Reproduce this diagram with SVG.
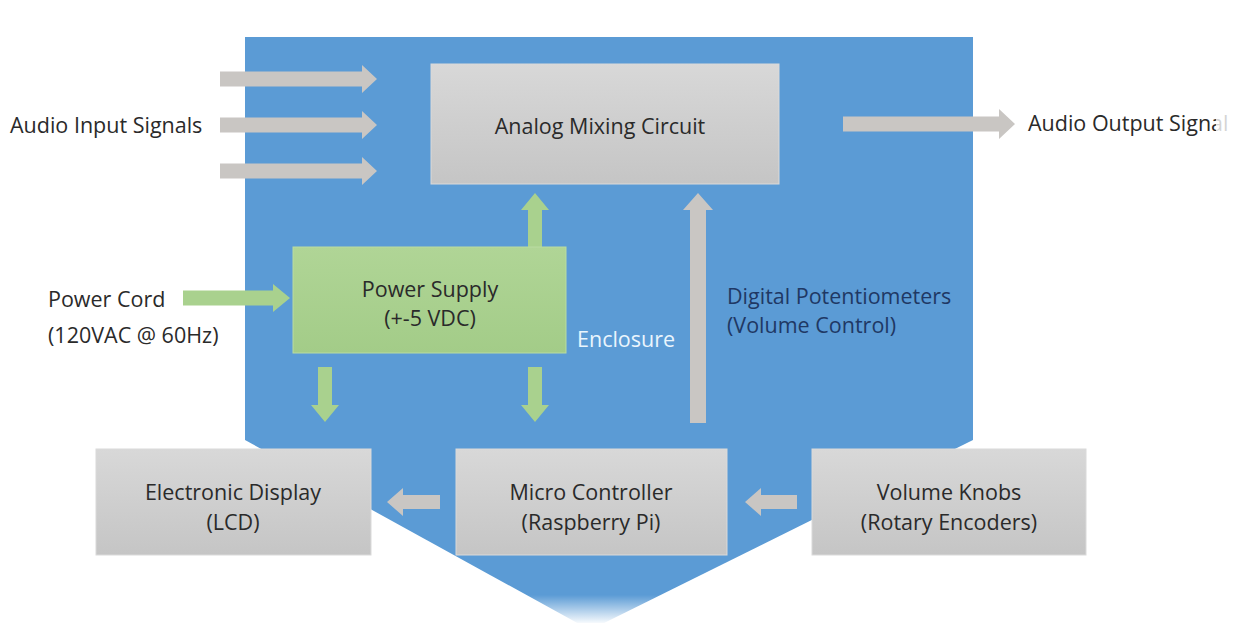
<svg xmlns="http://www.w3.org/2000/svg" width="1238" height="623" viewBox="0 0 1238 623">
  <defs>
    <linearGradient id="grayFill" x1="0" y1="0" x2="0" y2="1">
      <stop offset="0" stop-color="#d8d8d8"/>
      <stop offset="1" stop-color="#c5c5c5"/>
    </linearGradient>
    <linearGradient id="greenFill" x1="0" y1="0" x2="0" y2="1">
      <stop offset="0" stop-color="#b0d596"/>
      <stop offset="1" stop-color="#a3cc88"/>
    </linearGradient>
    <linearGradient id="fadeBottom" x1="0" y1="0" x2="0" y2="1">
      <stop offset="0" stop-color="#ffffff" stop-opacity="0"/>
      <stop offset="1" stop-color="#ffffff" stop-opacity="0.95"/>
    </linearGradient>
  </defs>
  <style>
    .lbl { font-family: "Open Sans", Lato, sans-serif; font-size: 21.5px; fill: #2a2a2a; }
    .mid { text-anchor: middle; }
    .box { fill: url(#grayFill); stroke: #dadada; stroke-width: 1; }
    .psu { fill: url(#greenFill); stroke: #b9dca2; stroke-width: 1; }
    .arrG { fill: #c9c6c3; }
    .arrP { fill: #a9d18e; }
    .pot { fill: #1f3864; }
    .encl { fill: #eaf5fd; }
  </style>

  <rect width="1238" height="623" fill="#ffffff"/>

  <!-- enclosure body -->
  <g id="enclosure">
    <polygon points="245,37 973,37 973,440 590,630 245,440" fill="#5b9bd5"/>
    <rect x="480" y="595" width="220" height="28" fill="url(#fadeBottom)"/>
    <text class="lbl encl" x="577" y="347">Enclosure</text>
  </g>

  <!-- connectors -->
  <g id="connectors">
    <!-- audio inputs -->
    <polygon class="arrG" points="220,71.5 362,71.5 362,65 377,79 362,93 362,86.5 220,86.5"/>
    <polygon class="arrG" points="220,117.5 362,117.5 362,111 377,125 362,139 362,132.5 220,132.5"/>
    <polygon class="arrG" points="220,163.5 362,163.5 362,157 377,171 362,185 362,178.5 220,178.5"/>
    <!-- audio output -->
    <polygon class="arrG" points="843,116.5 999,116.5 999,109 1015,124 999,139 999,131.5 843,131.5"/>
    <!-- power cord -->
    <polygon class="arrP" points="183,290.5 273,290.5 273,284 290,298 273,312 273,305.5 183,305.5"/>
    <!-- supply up to mixer -->
    <polygon class="arrP" points="528,247 528,210 521,210 535,193 549,210 542,210 542,247"/>
    <!-- supply down to display and controller -->
    <polygon class="arrP" points="318,367 332,367 332,405 339,405 325,422 311,405 318,405"/>
    <polygon class="arrP" points="528,367 542,367 542,405 549,405 535,422 521,405 528,405"/>
    <!-- controller up to mixer (digital pots) -->
    <polygon class="arrG" points="690,423 690,210 683,210 698,193 713,210 706,210 706,423"/>
    <!-- controller to display -->
    <polygon class="arrG" points="440,495 403,495 403,488 387,502 403,516 403,509 440,509"/>
    <!-- knobs to controller -->
    <polygon class="arrG" points="797,495 761,495 761,488 745,502 761,516 761,509 797,509"/>
    <text class="lbl pot" x="727" y="304">Digital Potentiometers</text>
    <text class="lbl pot" x="727" y="333">(Volume Control)</text>
  </g>

  <g id="audio-in">
    <text class="lbl" x="10" y="133">Audio Input Signals</text>
  </g>

  <g id="audio-out">
    <text class="lbl" x="1028" y="131">Audio Output Signal</text>
  </g>

  <g id="power-cord">
    <text class="lbl" x="48" y="307">Power Cord</text>
    <text class="lbl" x="48" y="343">(120VAC @ 60Hz)</text>
  </g>

  <g id="mixer">
    <rect class="box" x="431" y="64" width="348" height="120"/>
    <text class="lbl mid" x="600" y="134">Analog Mixing Circuit</text>
  </g>

  <g id="power-supply">
    <rect class="psu" x="293" y="247" width="273" height="106"/>
    <text class="lbl mid" x="430" y="297">Power Supply</text>
    <text class="lbl mid" x="430" y="326">(+-5 VDC)</text>
  </g>

  <g id="display">
    <rect class="box" x="96" y="449" width="275" height="106"/>
    <text class="lbl mid" x="233" y="500">Electronic Display</text>
    <text class="lbl mid" x="233" y="530">(LCD)</text>
  </g>

  <g id="controller">
    <rect class="box" x="456" y="449" width="271" height="106"/>
    <text class="lbl mid" x="591" y="500">Micro Controller</text>
    <text class="lbl mid" x="591" y="530">(Raspberry Pi)</text>
  </g>

  <g id="knobs">
    <rect class="box" x="812" y="449" width="274" height="106"/>
    <text class="lbl mid" x="949" y="500">Volume Knobs</text>
    <text class="lbl mid" x="949" y="530">(Rotary Encoders)</text>
  </g>

  <!-- soft right margin -->
  <rect x="1216" y="0" width="22" height="623" fill="#ffffff" fill-opacity="0.8"/>
</svg>
